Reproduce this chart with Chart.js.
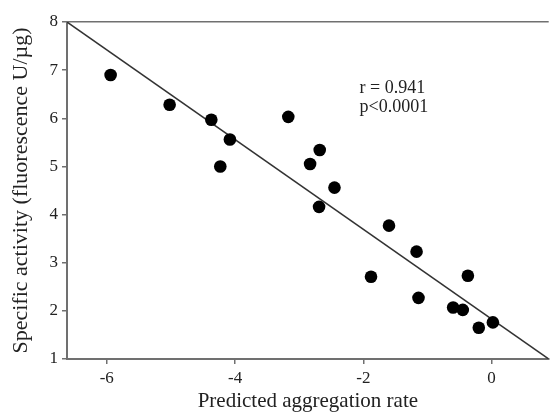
<!DOCTYPE html>
<html>
<head>
<meta charset="utf-8">
<script src="https://cdn.jsdelivr.net/npm/chart.js@4"></script>
<style>
  body { margin: 0; background: #fff; }
</style>
</head>
<body>
<canvas id="myChart" width="555" height="414"></canvas>
<script>
// measured points
const predictedRate = [-5.94, -5.02, -4.37, -4.08, -4.23, -3.17, -2.68, -2.83, -2.45, -2.69, -1.60, -1.17, -1.88, -0.37, -1.14, -0.60, -0.45, 0.02, -0.20];
const activity = [6.90, 6.28, 5.97, 5.56, 5.00, 6.03, 5.34, 5.05, 4.56, 4.16, 3.77, 3.23, 2.71, 2.73, 2.27, 2.07, 2.02, 1.76, 1.65];

// regression line ends
const fitX = [-6.62, 0.89];
const fitY = [8, 1];

const xTicks = [-6, -4, -2, 0];
const yTicks = [1, 2, 3, 4, 5, 6, 7, 8];

const statsText = ["r = 0.941", "p<0.0001"];
const statsX = -2.06;
const statsY = [6.63, 6.22];

const serif = "'Liberation Serif', 'Times New Roman', serif";
const axisGray = "#707070";

const statsLabel = {
  id: "statsLabel",
  afterDatasetsDraw(chart) {
    const { ctx, scales } = chart;
    ctx.save();
    ctx.font = "18px " + serif;
    ctx.fillStyle = "#222";
    ctx.textAlign = "left";
    ctx.textBaseline = "middle";
    statsText.forEach((t, i) => {
      ctx.fillText(t, scales.x.getPixelForValue(statsX), scales.y.getPixelForValue(statsY[i]));
    });
    ctx.restore();
  },
};

const ctx = document.getElementById("myChart");
new Chart(ctx, {
  type: "scatter",
  data: {
    datasets: [
      {
        data: predictedRate.map((x, i) => ({ x: x, y: activity[i] })),
        backgroundColor: "#000",
        borderWidth: 0,
        pointRadius: 6.3,
      },
      {
        type: "line",
        data: fitX.map((x, i) => ({ x: x, y: fitY[i] })),
        borderColor: "#333",
        borderWidth: 1.5,
        pointRadius: 0,
        fill: false,
      },
    ],
  },
  plugins: [statsLabel],
  options: {
    responsive: false,
    animation: false,
    layout: { padding: { top: 22, right: 0, left: 0, bottom: 0 } },
    plugins: {
      legend: { display: false },
      tooltip: { enabled: false },
    },
    scales: {
      x: {
        type: "linear",
        min: fitX[0],
        max: fitX[1],
        afterBuildTicks: (s) => { s.ticks = xTicks.map((v) => ({ value: v })); },
        afterFit: (s) => { s.height = 55; },
        border: { display: true, color: axisGray, width: 2 },
        grid: { drawOnChartArea: false, tickLength: 5, tickColor: axisGray, lineWidth: 1.5 },
        ticks: { color: "#222", padding: 4, font: { family: serif, size: 17 } },
        title: {
          display: true,
          text: "Predicted aggregation rate",
          color: "#222",
          padding: { top: 0, bottom: 0 },
          font: { family: serif, size: 21 },
        },
      },
      y: {
        min: 1,
        max: 8,
        afterBuildTicks: (s) => { s.ticks = yTicks.map((v) => ({ value: v })); },
        afterFit: (s) => { s.width = 67; },
        border: { display: true, color: axisGray, width: 2 },
        grid: {
          color: (c) => (c.tick && c.tick.value === 8 ? axisGray : "rgba(0,0,0,0)"),
          lineWidth: 1.5,
          tickLength: 5,
          tickColor: axisGray,
        },
        ticks: { color: "#222", padding: 4, font: { family: serif, size: 17 } },
        title: {
          display: true,
          text: "Specific activity (fluorescence U/\u00b5g)",
          color: "#222",
          padding: { top: 8, bottom: 0 },
          font: { family: serif, size: 22 },
        },
      },
    },
  },
});
</script>
</body>
</html>
